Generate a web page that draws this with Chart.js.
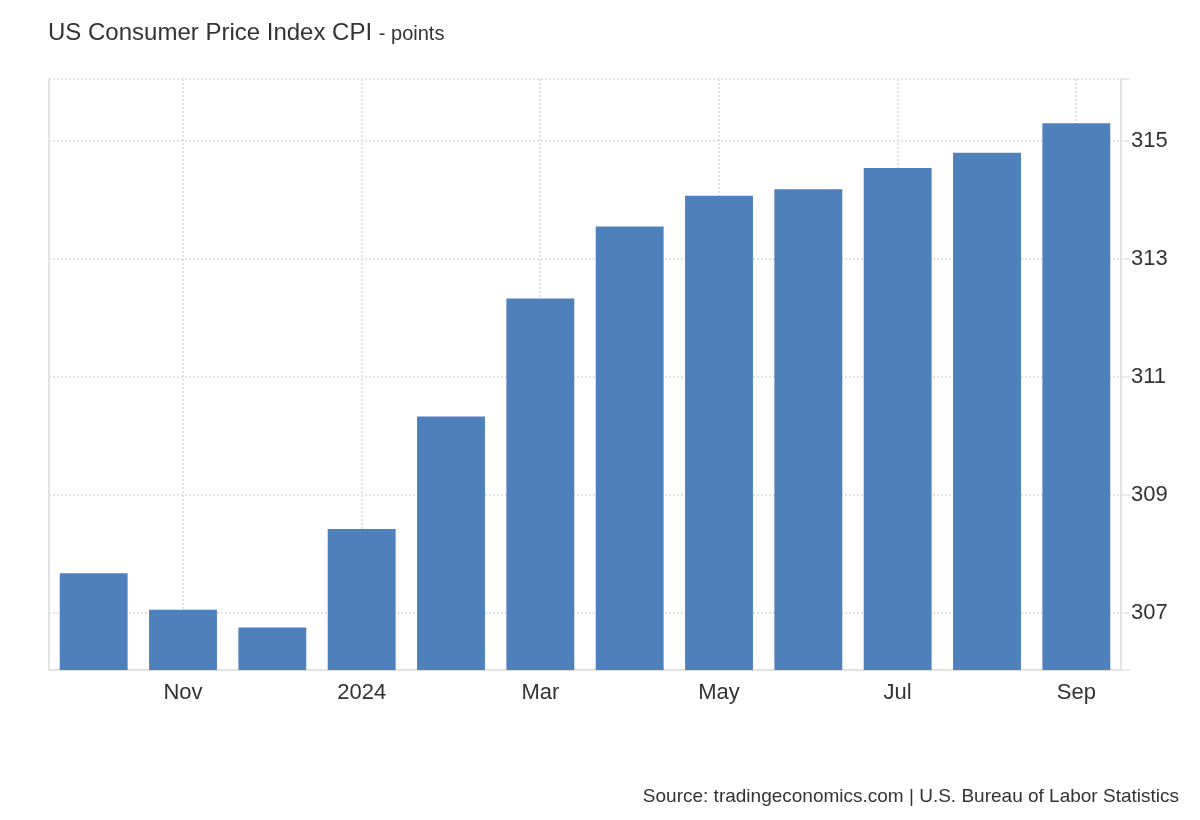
<!DOCTYPE html>
<html>
<head>
<meta charset="utf-8">
<title>US Consumer Price Index CPI</title>
<script src="https://cdn.jsdelivr.net/npm/chart.js@4"></script>
<style>
  body { margin: 0; background: #fff; font-family: 'Liberation Sans', Arial, sans-serif; color: #333; }
  #wrap { position: relative; width: 1200px; height: 820px; overflow: hidden; }
  #title { position: absolute; left: 48px; top: 20px; font-size: 24px; line-height: 24px; white-space: nowrap; }
  #title span { font-size: 20px; }
  #source { position: absolute; right: 21px; top: 786px; font-size: 19px; line-height: 19px; white-space: nowrap; }
  #chart { position: absolute; left: 0; top: 0; }
</style>
</head>
<body>
<div id="wrap">
  <canvas id="chart" width="1200" height="820"></canvas>
  <div id="title">US Consumer Price Index CPI <span>- points</span></div>
  <div id="source">Source: tradingeconomics.com | U.S. Bureau of Labor Statistics</div>
</div>
<script>
// monthly CPI, Oct 2023 - Sep 2024
const months = ['Oct 2023', 'Nov 2023', 'Dec 2023', 'Jan 2024', 'Feb 2024', 'Mar 2024',
                'Apr 2024', 'May 2024', 'Jun 2024', 'Jul 2024', 'Aug 2024', 'Sep 2024'];
const cpiValues = [307.67, 307.05, 306.75, 308.42, 310.33, 312.33,
                   313.55, 314.07, 314.18, 314.54, 314.80, 315.30];
const xTickLabels = ['', 'Nov', '', '2024', '', 'Mar', '', 'May', '', 'Jul', '', 'Sep'];
const yTickValues = [307, 309, 311, 313, 315];
const yMin = 306.03;
const yMax = 316.05;

const gridColor = '#e2e2e2';
const axisColor = '#e3e3e3';
const labelFont = { family: "'Liberation Sans', Arial, sans-serif", size: 22 };

const ctx = document.getElementById('chart').getContext('2d');
new Chart(ctx, {
    type: 'bar',
    data: {
        labels: months,
        datasets: [{
            label: 'CPI',
            data: cpiValues,
            backgroundColor: '#4e80bc',
            barPercentage: 0.76,
            categoryPercentage: 1
        }]
    },
    options: {
        responsive: false,
        animation: false,
        layout: { padding: { left: 49, top: 79, right: 0, bottom: 0 } },
        plugins: {
            legend: { display: false },
            tooltip: { enabled: false }
        },
        scales: {
            x: {
                offset: true,
                grid: {
                    offset: false,
                    drawTicks: false,
                    lineWidth: 2,
                    color: c => xTickLabels[c.index] ? gridColor : 'rgba(0,0,0,0)'
                },
                border: { color: axisColor, width: 2, dash: [2, 2] },
                ticks: {
                    autoSkip: false,
                    maxRotation: 0,
                    padding: 10,
                    color: '#333',
                    font: labelFont,
                    callback: (v, i) => xTickLabels[i]
                },
                afterFit: scale => { scale.height = 150; }
            },
            y: {
                position: 'right',
                min: yMin,
                max: yMax,
                afterBuildTicks: scale => {
                    scale.ticks = [yMin, ...yTickValues, yMax].map(v => ({ value: v }));
                },
                grid: {
                    color: gridColor,
                    lineWidth: 2,
                    tickLength: 9,
                    tickWidth: 1,
                    tickColor: '#d6d6d6',
                    tickBorderDash: []
                },
                border: { color: axisColor, width: 2, dash: [2, 2] },
                ticks: {
                    padding: 1,
                    color: '#333',
                    font: labelFont,
                    callback: v => yTickValues.includes(v) ? String(v) : ''
                },
                afterFit: scale => { scale.width = 79; }
            },
            // left frame line only
            yLeft: {
                position: 'left',
                min: yMin,
                max: yMax,
                grid: { display: false },
                ticks: { display: false },
                border: { color: axisColor, width: 2 },
                afterFit: scale => { scale.width = 0; }
            }
        }
    }
});
</script>
</body>
</html>
